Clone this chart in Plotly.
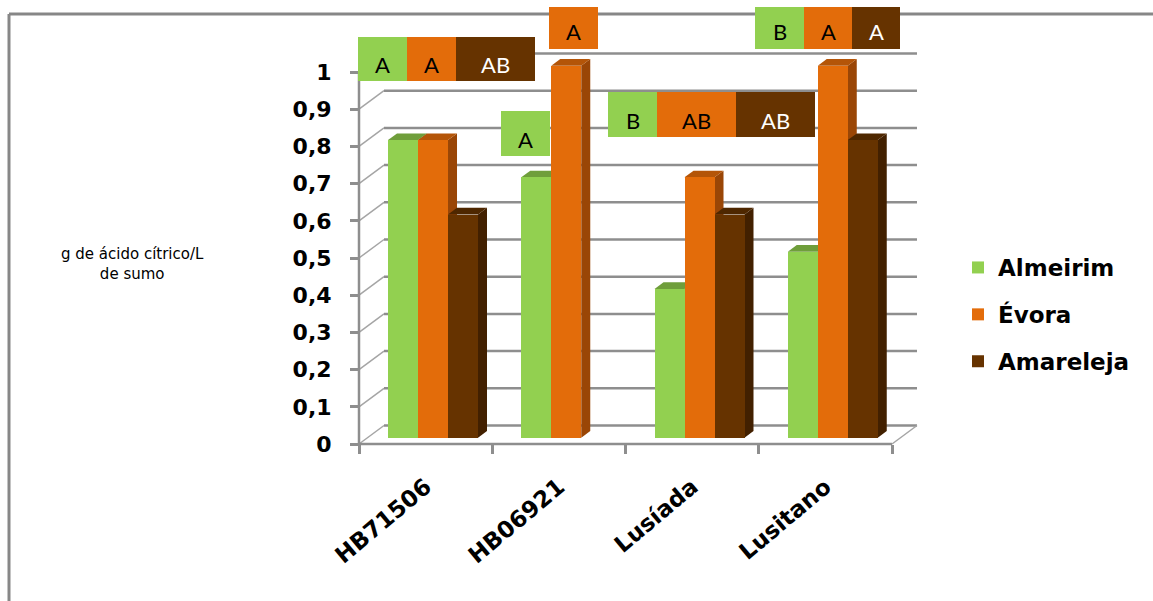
import plotly.graph_objects as go

# ---- data -------------------------------------------------------------
categories = ["HB71506", "HB06921", "Lusíada", "Lusitano"]
series_names = ["Almeirim", "Évora", "Amareleja"]
almeirim = [0.8, 0.7, 0.4, 0.5]
evora = [0.8, 1.0, 0.7, 1.0]
amareleja = [0.6, None, 0.6, 0.8]

# significance letters for each series / category
letters_almeirim = ["A", "A", "B", "B"]
letters_evora = ["A", "A", "AB", "A"]
letters_amareleja = ["AB", None, "AB", "A"]

y_tick_values = [0, 0.1, 0.2, 0.3, 0.4, 0.5, 0.6, 0.7, 0.8, 0.9, 1.0]
y_tick_text = ["0", "0,1", "0,2", "0,3", "0,4", "0,5", "0,6", "0,7", "0,8", "0,9", "1"]

y_title = "g de ácido cítrico/L<br>de sumo"

# ---- styling ----------------------------------------------------------
front_colors = ["#92D050", "#E36C0A", "#663300"]
top_colors = ["#6F9E3B", "#B45508", "#4E2700"]
side_colors = ["#5E8A2E", "#9A4606", "#422000"]
grid_color = "#8E8E8E"
W, H = 1153, 601

# axis scale in pixels: x in category units, y in value units
X0_PX, UNIT_X = 359.0, 133.25
Y0_PX, UNIT_Y = 444.0, 372.0
x_range = [-X0_PX / UNIT_X, (W - X0_PX) / UNIT_X]
y_range = [-(H - Y0_PX) / UNIT_Y, Y0_PX / UNIT_Y]

# 3D depth of the floor / back wall and of the bars
WALL_DX = 25.0 / UNIT_X
WALL_DY = 18.5 / UNIT_Y
BAR_FRONT, BAR_BACK = 0.34, 0.70
GROUP_START = 0.154
BAR_W = 0.2251

n_cat = len(categories)
series_values = [almeirim, evora, amareleja]
series_letters = [letters_almeirim, letters_evora, letters_amareleja]


def px_x(p):
    return p / W


def px_y(p):
    return 1 - p / H


shapes = []

# outer frame (top and left edges)
shapes.append(dict(type="line", xref="paper", yref="paper", layer="above",
                   x0=px_x(9), y0=px_y(14), x1=1, y1=px_y(14),
                   line=dict(color="#878787", width=3)))
shapes.append(dict(type="line", xref="paper", yref="paper", layer="above",
                   x0=px_x(9), y0=px_y(14), x1=px_x(9), y1=0,
                   line=dict(color="#878787", width=3)))

# back wall gridlines with their diagonal edges on the left wall
for v in y_tick_values:
    shapes.append(dict(type="line", xref="x", yref="y", layer="below",
                       x0=0, y0=v, x1=WALL_DX, y1=v + WALL_DY,
                       line=dict(color="#A5A5A5", width=1.5)))
    shapes.append(dict(type="line", xref="x", yref="y", layer="below",
                       x0=WALL_DX, y0=v + WALL_DY, x1=n_cat + WALL_DX, y1=v + WALL_DY,
                       line=dict(color=grid_color, width=2.5)))

# floor front edge, right floor edge and front value axis line
shapes.append(dict(type="line", xref="x", yref="y", layer="below",
                   x0=0, y0=0, x1=n_cat, y1=0, line=dict(color=grid_color, width=2.5)))
shapes.append(dict(type="line", xref="x", yref="y", layer="below",
                   x0=n_cat, y0=0, x1=n_cat + WALL_DX, y1=WALL_DY,
                   line=dict(color="#A5A5A5", width=1.5)))
shapes.append(dict(type="line", xref="x", yref="y", layer="below",
                   x0=0, y0=0, x1=0, y1=1.0, line=dict(color=grid_color, width=2.5)))

# bar geometry
base_dx = BAR_FRONT * WALL_DX
base_dy = BAR_FRONT * WALL_DY
depth_dx = (BAR_BACK - BAR_FRONT) * WALL_DX
depth_dy = (BAR_BACK - BAR_FRONT) * WALL_DY


def bar_left(ci, si):
    return ci + GROUP_START + si * BAR_W + base_dx


# side and top faces, drawn underneath the bar fronts
for ci in range(n_cat):
    for si, vals in enumerate(series_values):
        v = vals[ci]
        if v is None:
            continue
        L = bar_left(ci, si)
        R = L + BAR_W
        b = base_dy
        t = b + v
        side = (f"M{R},{b} L{R + depth_dx},{b + depth_dy} "
                f"L{R + depth_dx},{t + depth_dy} L{R},{t} Z")
        top = (f"M{L},{t} L{L + depth_dx},{t + depth_dy} "
               f"L{R + depth_dx},{t + depth_dy} L{R},{t} Z")
        shapes.append(dict(type="path", xref="x", yref="y", layer="below", path=side,
                           fillcolor=side_colors[si], line=dict(width=0)))
        shapes.append(dict(type="path", xref="x", yref="y", layer="below", path=top,
                           fillcolor=top_colors[si], line=dict(width=0)))

fig = go.Figure()

for si, (name, vals) in enumerate(zip(series_names, series_values)):
    xs = [bar_left(ci, si) + BAR_W / 2 for ci in range(n_cat)]
    fig.add_trace(go.Bar(
        x=xs, y=vals, base=[base_dy] * n_cat, width=BAR_W,
        name=name, legendgroup=name,
        marker=dict(color=front_colors[si], line=dict(width=0)),
        hoverinfo="skip",
    ))

# carrier trace for the category tick-mark axis
fig.add_trace(go.Scatter(x=[0, n_cat], y=[None, None], xaxis="x2", mode="lines",
                         showlegend=False, hoverinfo="skip"))

# letter boxes (pixel rectangles: left, top, right, bottom)
box_px = {
    (0, 0): (358, 37, 407, 81), (0, 1): (407, 37, 456, 81), (0, 2): (456, 37, 535, 81),
    (1, 0): (501, 111, 550, 156), (1, 1): (549, 7, 598, 49),
    (2, 0): (608, 92, 657, 137), (2, 1): (657, 92, 736, 137), (2, 2): (736, 92, 815, 137),
    (3, 0): (755, 7, 804, 49), (3, 1): (804, 7, 852, 49), (3, 2): (852, 7, 900, 49),
}
text_colors = ["#000000", "#000000", "#FFFFFF"]
annotations = []
for (ci, si), (l, t, r, bt) in box_px.items():
    label = series_letters[si][ci]
    if label is None:
        continue
    shapes.append(dict(type="rect", xref="paper", yref="paper", layer="above",
                       x0=px_x(l), x1=px_x(r), y0=px_y(bt), y1=px_y(t),
                       fillcolor=front_colors[si], line=dict(width=0)))
    annotations.append(dict(xref="paper", yref="paper", x=px_x((l + r) / 2), y=px_y(bt - 17),
                            xanchor="center", yanchor="middle", showarrow=False,
                            text=label, font=dict(family="Lato", size=22, color=text_colors[si])))

# value axis title
annotations.append(dict(xref="paper", yref="paper", x=px_x(132), y=px_y(264),
                        xanchor="center", yanchor="middle", showarrow=False, align="center",
                        text=y_title,
                        font=dict(family="DejaVu Sans", size=15, color="#000000")))

fig.update_layout(
    width=W, height=H,
    margin=dict(l=0, r=0, t=0, b=0, pad=0),
    paper_bgcolor="white", plot_bgcolor="white",
    barmode="overlay", bargap=0,
    showlegend=True,
    legend=dict(x=px_x(958), y=px_y(246), xanchor="left", yanchor="top",
                font=dict(family="DejaVu Sans", size=23, color="#000000", weight="bold"),
                bgcolor="rgba(0,0,0,0)", tracegroupgap=14, traceorder="grouped",
                itemclick=False),
    xaxis=dict(range=x_range, anchor="free", position=1 - Y0_PX / H, domain=[0, 1],
               tickvals=[ci + 0.5 for ci in range(n_cat)], ticktext=categories,
               tickangle=-40, ticks="", showgrid=False, zeroline=False, showline=False,
               tickfont=dict(family="DejaVu Sans", size=23, color="#000000", weight="bold"),
               ticklabelstandoff=24, automargin=False, fixedrange=True),
    xaxis2=dict(range=x_range, overlaying="x", anchor="free", position=1 - Y0_PX / H,
                tickvals=list(range(n_cat + 1)), ticks="outside", ticklen=9, tickwidth=2.5,
                tickcolor=grid_color, showticklabels=False, showgrid=False, zeroline=False,
                showline=False, automargin=False, fixedrange=True),
    yaxis=dict(range=y_range, anchor="free", position=X0_PX / W, domain=[0, 1],
               tickvals=y_tick_values, ticktext=y_tick_text, ticks="outside", ticklen=9,
               tickwidth=2.5, tickcolor=grid_color, showgrid=False, zeroline=False,
               showline=False,
               tickfont=dict(family="DejaVu Sans", size=22, color="#000000", weight="bold"),
               ticklabelstandoff=14, automargin=False, fixedrange=True),
    shapes=shapes,
    annotations=annotations,
)

fig.write_html("out.html")
